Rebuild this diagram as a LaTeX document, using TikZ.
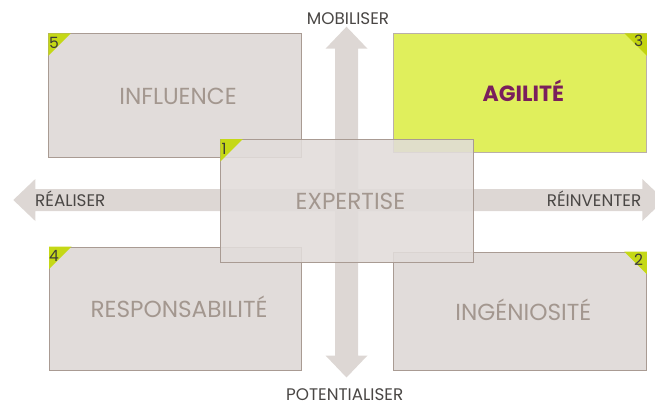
\documentclass[tikz,border=0pt]{standalone}
\usepackage{fontspec}
\setmainfont{Poppins}
\definecolor{arrowc}{HTML}{DDD7D4}
\definecolor{boxfill}{HTML}{E1DCDA}
\definecolor{boxline}{HTML}{A99B93}
\definecolor{boxtext}{HTML}{A3978F}
\definecolor{tri}{HTML}{C5D816}
\definecolor{agfill}{HTML}{E0EF5C}
\definecolor{agtri}{HTML}{C3D410}
\definecolor{purp}{HTML}{7A1F5C}
\definecolor{lbl}{HTML}{4A4745}
\definecolor{numc}{HTML}{3C3A38}
\tikzset{
  box/.style={draw=boxline, line width=0.8pt, fill=boxfill, anchor=north west, inner sep=0pt},
  boxlbl/.style={text=boxtext, font=\fontsize{23.2}{23.2}\selectfont, inner sep=0pt, anchor=base},
  axislbl/.style={text=lbl, font=\fontsize{16.8}{16.8}\selectfont, inner sep=0pt, anchor=base, text depth=0pt},
  numlbl/.style={text=numc, font=\fontsize{15.5}{15.5}\selectfont, inner sep=0pt},
  corner/.style={fill=tri},
}
\begin{document}
\begin{tikzpicture}[x=1pt,y=-1pt]
\useasboundingbox (0,0) rectangle (655,404);
\clip (0,0) rectangle (655,404);
% axes arrows
\fill[arrowc] (346.5,26.7) -- (367.5,48.7) -- (358,48.7) -- (358,355.5) -- (367.5,355.5)
  -- (346.5,377.5) -- (325.5,355.5) -- (335,355.5) -- (335,48.7) -- (325.5,48.7) -- cycle;
\fill[arrowc] (13.3,200) -- (35.3,179) -- (35.3,189) -- (642.3,189) -- (642.3,179)
  -- (664.3,200) -- (642.3,221) -- (642.3,211) -- (35.3,211) -- (35.3,221) -- cycle;
% axis labels
\node[axislbl] (mob) at (348,25) {MOBILISER};
\node[axislbl] (pot) at (344.7,400.3) {POTENTIALISER};
\node[axislbl, anchor=base west] (rea) at (35,206) {RÉALISER};
\node[axislbl, anchor=base east] (rei) at (641.5,206) {RÉINVENTER};
% boxes
\node[box, minimum width=252.7pt, minimum height=123.7pt] (infl) at (48.3,33.3) {};
\node[boxlbl] (inflt) at (178,104) {INFLUENCE};
\fill[corner] (infl.north west) -- ++(22.5,0) -- ++(-22.5,22.5) -- cycle;
\node[numlbl, anchor=base west] (n5) at (48.8,48.3) {5};

\node[box, fill=agfill, draw=boxline!80, minimum width=252.7pt, minimum height=118.4pt] (agil) at (393.3,33.3) {};
\node[boxlbl, text=purp, font=\fontsize{22}{22}\selectfont\bfseries] (agilt) at (523.3,101.7) {AGILITÉ};
\fill[agtri] (agil.north east) -- ++(-22.5,0) -- ++(22.5,22.5) -- cycle;
\node[numlbl, anchor=base east] (n3) at (643.5,46.7) {3};

\node[box, minimum width=252.3pt, minimum height=123.6pt] (resp) at (49,246.7) {};
\node[boxlbl] (respt) at (179,317.3) {RESPONSABILITÉ};
\fill[corner] (resp.north west) -- ++(22.5,0) -- ++(-22.5,22.5) -- cycle;
\node[numlbl, anchor=base west] (n4) at (49,261.7) {4};

\node[box, minimum width=252.7pt, minimum height=118.6pt] (ingen) at (393.3,251.7) {};
\node[boxlbl] (ingent) at (523.3,320) {INGÉNIOSITÉ};
\fill[corner] (ingen.north east) -- ++(-22.5,0) -- ++(22.5,22.5) -- cycle;
\node[numlbl, anchor=base east] (n2) at (643.3,265) {2};

% expertise on top, semi-transparent
\node[box, fill opacity=0.88, minimum width=253pt, minimum height=123.3pt] (expert) at (220.3,139) {};
\node[boxlbl] (expertt) at (350.5,209.5) {EXPERTISE};
\fill[corner] (expert.north west) -- ++(22.5,0) -- ++(-22.5,22.5) -- cycle;
\node[numlbl, anchor=base west] (n1) at (221.5,154) {1};
\end{tikzpicture}
\end{document}
